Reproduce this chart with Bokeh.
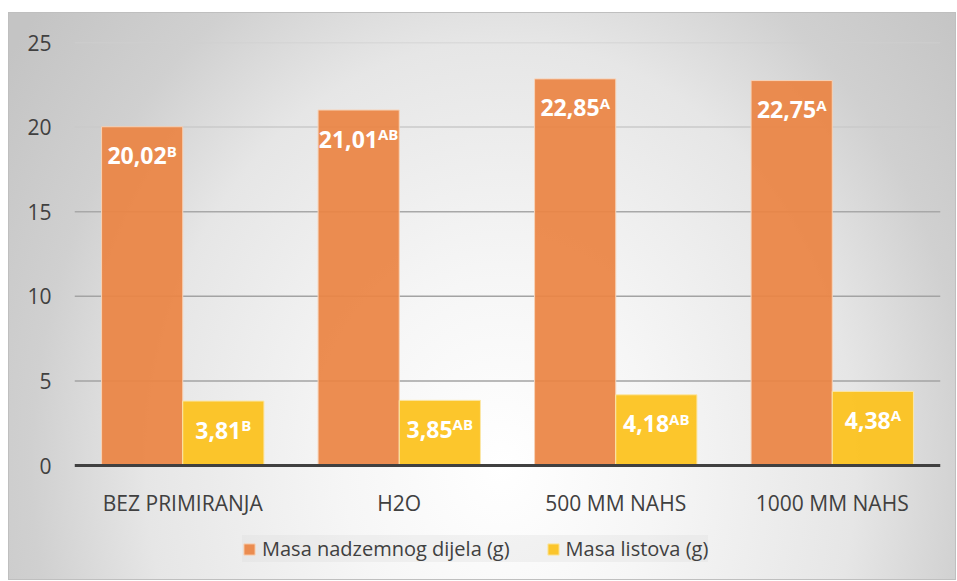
from bokeh.plotting import figure
from bokeh.models import (FactorRange, Range1d, FixedTicker, Span, Legend,
                          LegendItem, ColumnDataSource)
from bokeh.transform import dodge
from bokeh.core.properties import value
from bokeh.embed import file_html
from bokeh.resources import INLINE

# ---- data ----
categories = ["BEZ PRIMIRANJA", "H2O", "500 MM NAHS", "1000 MM NAHS"]
masa_nadzemnog = [20.02, 21.01, 22.85, 22.75]
masa_listova = [3.81, 3.85, 4.18, 4.38]
sig_nadzemnog = ["B", "AB", "A", "A"]
sig_listova = ["B", "AB", "AB", "A"]
series_names = ["Masa nadzemnog dijela (g)", "Masa listova (g)"]
y_ticks = [0, 5, 10, 15, 20, 25]

# ---- style ----
FONT = "Open Sans"
TXT = "#404040"
ORANGE = "#EB8444"
YELLOW = "#FCC21C"
MAIN_PX = 23
SUP_PX = 15

FIG_W, FIG_H = 948, 568
BORDER_TOP = 30
PLOT_PX = 423            # pixel height of the 0..25 band
Y_MAX = 25
frame_h = FIG_H - BORDER_TOP
y_start = Y_MAX - frame_h * Y_MAX / PLOT_PX   # room below 0 for labels + legend


def fmt(v):
    return f"{v:.2f}".replace(".", ",")


def est_w(s, px):
    w = 0.0
    for ch in s:
        if ch == ",":
            w += 0.29
        elif ch.isdigit():
            w += 0.572
        else:
            w += 0.69
    return w * px


def offsets(vals, sigs):
    return [(est_w(fmt(v), MAIN_PX) - est_w(s, SUP_PX)) / 2 for v, s in zip(vals, sigs)]


src = ColumnDataSource(dict(
    cat=categories,
    nad=masa_nadzemnog,
    lis=masa_listova,
    nad_txt=[fmt(v) for v in masa_nadzemnog],
    lis_txt=[fmt(v) for v in masa_listova],
    nad_sig=sig_nadzemnog,
    lis_sig=sig_listova,
    nad_off=offsets(masa_nadzemnog, sig_nadzemnog),
    lis_off=offsets(masa_listova, sig_listova),
))

bg = ("radial-gradient(ellipse 55% 110% at 52% 80%, #ffffff 0%, #f6f6f6 30%, "
      "#e6e6e6 68%, #d0d0d0 90%, #c4c4c4 115%)")

p = figure(x_range=FactorRange(factors=categories, range_padding=0),
           y_range=Range1d(y_start, Y_MAX),
           width=FIG_W, height=FIG_H,
           output_backend="svg", toolbar_location=None,
           min_border_left=66, min_border_right=16,
           min_border_top=BORDER_TOP, min_border_bottom=0,
           background_fill_color=None, border_fill_color=None,
           outline_line_color=None,
           styles={"background": bg, "box-shadow": "inset 0 0 0 1px #bfbfbf",
                   "margin-left": "8px", "margin-top": "12px"})

p.xgrid.visible = False
p.ygrid.visible = False

grid_colors = {5: "#a3a3a3", 10: "#a3a3a3", 15: "#a8a8a8", 20: "#cacaca", 25: "#cfcfcf"}
for t in y_ticks[1:]:
    p.add_layout(Span(location=t, dimension="width", line_color=grid_colors[t],
                      line_width=1.5, level="underlay"))

W = 0.375
r1 = p.vbar(x=dodge("cat", -W / 2, range=p.x_range), top="nad", bottom=0, width=W,
            source=src, fill_color=ORANGE, fill_alpha=0.93,
            line_color="#f7d3b8", line_width=1)
r2 = p.vbar(x=dodge("cat", W / 2, range=p.x_range), top="lis", bottom=0, width=W,
            source=src, fill_color=YELLOW, fill_alpha=0.93,
            line_color="#fbe7a8", line_width=1)

for key, dx in (("nad", -W / 2), ("lis", W / 2)):
    p.text(x=dodge("cat", dx, range=p.x_range), y=key, text=f"{key}_txt",
           x_offset=f"{key}_off", y_offset=29, text_align="right",
           text_baseline="middle", text_font=value(FONT), text_font_style="bold",
           text_font_size=f"{MAIN_PX}px", text_color="white", source=src)
    p.text(x=dodge("cat", dx, range=p.x_range), y=key, text=f"{key}_sig",
           x_offset=f"{key}_off", y_offset=24, text_align="left",
           text_baseline="middle", text_font=value(FONT), text_font_style="bold",
           text_font_size=f"{SUP_PX}px", text_color="white", source=src)

# axes
p.yaxis.ticker = FixedTicker(ticks=y_ticks)
p.yaxis.axis_line_color = None
p.yaxis.major_tick_line_color = None
p.yaxis.minor_tick_line_color = None
p.yaxis.major_label_standoff = 17
p.yaxis.major_label_text_font = FONT
p.yaxis.major_label_text_font_size = "21px"
p.yaxis.major_label_text_color = TXT

p.xaxis.fixed_location = 0
p.xaxis.axis_line_color = "#404040"
p.xaxis.axis_line_width = 3
p.xaxis.major_tick_line_color = None
p.xaxis.minor_tick_line_color = None
p.xaxis.major_label_standoff = 17
p.xaxis.major_label_text_font = FONT
p.xaxis.major_label_text_font_size = "21px"
p.xaxis.major_label_text_color = TXT

legend = Legend(items=[LegendItem(label=series_names[0], renderers=[r1]),
                       LegendItem(label=series_names[1], renderers=[r2])],
                orientation="horizontal", location=(168, 18),
                label_text_font=FONT, label_text_font_size="20px",
                label_text_color=TXT, glyph_width=14, glyph_height=14,
                label_standoff=6, spacing=36, padding=10, margin=0,
                background_fill_color="#dcdcdc", background_fill_alpha=0.3,
                border_line_color=None)
p.add_layout(legend)

open("out.html", "w").write(file_html(p, INLINE))
